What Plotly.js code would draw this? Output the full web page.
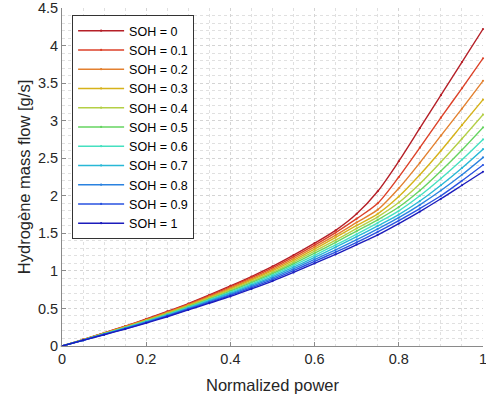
<!DOCTYPE html>
<html>
<head>
<meta charset="utf-8">
<script src="https://cdn.plot.ly/plotly-3.0.1.min.js"></script>
<style>html,body{margin:0;padding:0;background:#fff;}#chart{width:486px;height:403px;}</style>
</head>
<body>
<div id="chart"></div>
<script>
const powerX = [0, 0.05, 0.1, 0.15, 0.2, 0.25, 0.3, 0.35, 0.4, 0.45, 0.5, 0.55, 0.6, 0.65, 0.7, 0.75, 0.8, 0.85, 0.9, 0.95, 1.0];
const sohLabels = ['SOH = 0','SOH = 0.1','SOH = 0.2','SOH = 0.3','SOH = 0.4','SOH = 0.5','SOH = 0.6','SOH = 0.7','SOH = 0.8','SOH = 0.9','SOH = 1'];
const soh0  = [0, 0.085, 0.175, 0.265, 0.360, 0.460, 0.565, 0.680, 0.800, 0.925, 1.060, 1.210, 1.370, 1.540, 1.760, 2.060, 2.460, 2.900, 3.340, 3.780, 4.220];
const soh01 = [0, 0.084, 0.173, 0.261, 0.355, 0.453, 0.557, 0.669, 0.786, 0.909, 1.041, 1.187, 1.343, 1.510, 1.695, 1.900, 2.250, 2.640, 3.040, 3.430, 3.830];
const soh02 = [0, 0.083, 0.170, 0.257, 0.349, 0.446, 0.548, 0.658, 0.772, 0.892, 1.021, 1.164, 1.316, 1.475, 1.645, 1.815, 2.100, 2.440, 2.800, 3.160, 3.530];
const soh03 = [0, 0.082, 0.168, 0.253, 0.344, 0.439, 0.540, 0.647, 0.758, 0.876, 1.002, 1.141, 1.289, 1.445, 1.605, 1.760, 1.990, 2.280, 2.600, 2.940, 3.280];
const soh04 = [0, 0.081, 0.165, 0.249, 0.338, 0.432, 0.531, 0.636, 0.744, 0.859, 0.982, 1.118, 1.262, 1.410, 1.565, 1.720, 1.910, 2.160, 2.450, 2.760, 3.080];
const soh05 = [0, 0.080, 0.163, 0.245, 0.333, 0.425, 0.523, 0.625, 0.730, 0.843, 0.963, 1.095, 1.235, 1.380, 1.530, 1.680, 1.850, 2.070, 2.330, 2.610, 2.910];
const soh06 = [0, 0.079, 0.160, 0.241, 0.327, 0.418, 0.514, 0.614, 0.716, 0.826, 0.943, 1.072, 1.208, 1.345, 1.490, 1.640, 1.800, 2.000, 2.230, 2.480, 2.750];
const soh07 = [0, 0.078, 0.158, 0.237, 0.322, 0.411, 0.506, 0.603, 0.702, 0.810, 0.924, 1.049, 1.181, 1.315, 1.455, 1.600, 1.750, 1.930, 2.140, 2.370, 2.620];
const soh08 = [0, 0.077, 0.155, 0.233, 0.316, 0.404, 0.497, 0.592, 0.688, 0.793, 0.904, 1.026, 1.154, 1.280, 1.415, 1.560, 1.710, 1.880, 2.070, 2.280, 2.510];
const soh09 = [0, 0.076, 0.153, 0.229, 0.311, 0.397, 0.489, 0.581, 0.674, 0.777, 0.885, 1.003, 1.127, 1.250, 1.380, 1.520, 1.670, 1.830, 2.000, 2.200, 2.410];
const soh1  = [0, 0.075, 0.150, 0.225, 0.305, 0.390, 0.480, 0.570, 0.660, 0.760, 0.865, 0.980, 1.100, 1.220, 1.350, 1.480, 1.630, 1.790, 1.960, 2.140, 2.320];
const seriesY = [soh0, soh01, soh02, soh03, soh04, soh05, soh06, soh07, soh08, soh09, soh1];
const colors = ['#b51f27','#dc4128','#e3802f','#d6b21a','#b4cf45','#66d460','#45e0c0','#28b8d6','#2a82e0','#2852e0','#1c1cbc'];
const xTicks = [0, 0.2, 0.4, 0.6, 0.8, 1];
const xTickText = ['0', '0.2', '0.4', '0.6', '0.8', '1'];
const yTicks = [0, 0.5, 1, 1.5, 2, 2.5, 3, 3.5, 4, 4.5];
const yTickText = ['0', '0.5', '1', '1.5', '2', '2.5', '3', '3.5', '4', '4.5'];

const traces = seriesY.map((y, i) => ({
  x: powerX, y: y, name: sohLabels[i], type: 'scatter', mode: 'lines+markers',
  line: {color: colors[i], width: 1.4, shape: 'spline', smoothing: 0.8},
  marker: {color: colors[i], size: 2.2},
  cliponaxis: false
}));

const layout = {
  width: 486, height: 403,
  margin: {l: 62, r: 3, t: 8, b: 57},
  paper_bgcolor: '#fff', plot_bgcolor: '#fff',
  font: {family: '"Liberation Sans", Arial, sans-serif', size: 14, color: '#262626'},
  showlegend: true,
  legend: {x: 0.024, y: 0.979, xanchor: 'left', yanchor: 'top', bgcolor: '#fff',
           bordercolor: '#333', borderwidth: 1, font: {size: 12.5, color: '#000'},
           itemwidth: 46, tracegroupgap: 0},
  xaxis: {
    range: [0, 1], tickvals: xTicks, ticktext: xTickText, ticklabeloverflow: 'allow',
    showgrid: true, gridcolor: '#d4d4d4', griddash: 'dot', gridwidth: 1,
    zeroline: false, showline: true, linecolor: '#8a8a8a', linewidth: 1,
    ticks: 'inside', ticklen: 4, tickcolor: '#8a8a8a', tickfont: {size: 14.5, color: '#262626'},
    minor: {dtick: 0.05, showgrid: true, gridcolor: '#e0e0e0', griddash: 'dot', ticks: ''},
    title: {text: 'Normalized power', font: {size: 16.5, color: '#262626'}, standoff: 13}
  },
  yaxis: {
    range: [0, 4.5], tickvals: yTicks, ticktext: yTickText, ticklabeloverflow: 'allow',
    showgrid: true, gridcolor: '#d4d4d4', griddash: 'dot', gridwidth: 1,
    zeroline: false, showline: true, linecolor: '#8a8a8a', linewidth: 1,
    ticks: 'inside', ticklen: 4, tickcolor: '#8a8a8a', tickfont: {size: 14.5, color: '#262626'},
    minor: {dtick: 0.1, showgrid: true, gridcolor: '#e0e0e0', griddash: 'dot', ticks: ''},
    title: {text: 'Hydrogène mass flow [g/s]', font: {size: 16.5, color: '#262626'}, standoff: 3}
  }
};
Plotly.newPlot('chart', traces, layout, {displayModeBar: false, staticPlot: true});
</script>
</body>
</html>
